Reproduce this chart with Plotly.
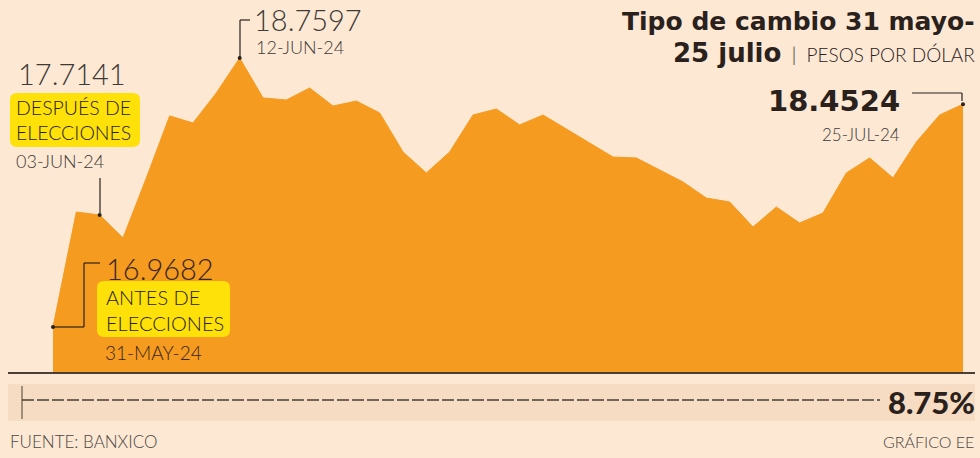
import plotly.graph_objects as go

# ---------------- data ----------------
# 40 daily observations, 31-may-24 .. 25-jul-24 (pesos por dólar)
day_index = list(range(40))
tipo_cambio = [
    16.9682, 17.734, 17.7141, 17.561, 17.961, 18.374, 18.327, 18.527, 18.7597, 18.494,
    18.480, 18.560, 18.440, 18.473, 18.394, 18.134, 17.994, 18.134, 18.380, 18.420,
    18.314, 18.380, 18.287, 18.194, 18.100, 18.094, 18.014, 17.934, 17.827, 17.801,
    17.634, 17.767, 17.661, 17.727, 17.994, 18.094, 17.961, 18.200, 18.380, 18.4524,
]
highlight_idx = [0, 2, 8, 39]
highlight_lbl = ["31-MAY-24", "03-JUN-24", "12-JUN-24", "25-JUL-24"]
tasa_objetivo = "8.75%"

# ---------------- styling ----------------
W, H = 980, 458
BOTTOM = 373          # pixel row of the baseline
BG = "#FDE8D4"
ORANGE = "#F59B20"
YELLOW = "#FFE10A"
DARK = "#2A211C"
GREY = "#3E3A37"
FONT = "Lato"
BOLDFONT = "DejaVu Sans"


def px(x):
    return x / W


def py(y):
    return (BOTTOM - y) / BOTTOM


fig = go.Figure()
fig.add_trace(go.Scatter(
    x=day_index, y=tipo_cambio, mode="lines", fill="tozeroy",
    fillcolor=ORANGE, line=dict(color=ORANGE, width=1), hoverinfo="skip",
))
fig.add_trace(go.Scatter(
    x=[day_index[i] for i in highlight_idx],
    y=[tipo_cambio[i] for i in highlight_idx],
    mode="markers", marker=dict(color=DARK, size=4), hoverinfo="skip",
))

shapes = []
annotations = []


def line(x0, y0, x1, y1, color=DARK, width=1.2, dash="solid"):
    shapes.append(dict(type="line", xref="paper", yref="paper",
                       x0=px(x0), y0=py(y0), x1=px(x1), y1=py(y1),
                       line=dict(color=color, width=width, dash=dash)))


def rounded_box(x0, y0, x1, y1, r, color):
    p = (f"M {px(x0 + r)},{py(y0)} L {px(x1 - r)},{py(y0)} "
         f"Q {px(x1)},{py(y0)} {px(x1)},{py(y0 + r)} L {px(x1)},{py(y1 - r)} "
         f"Q {px(x1)},{py(y1)} {px(x1 - r)},{py(y1)} L {px(x0 + r)},{py(y1)} "
         f"Q {px(x0)},{py(y1)} {px(x0)},{py(y1 - r)} L {px(x0)},{py(y0 + r)} "
         f"Q {px(x0)},{py(y0)} {px(x0 + r)},{py(y0)} Z")
    shapes.append(dict(type="path", xref="paper", yref="paper", path=p,
                       fillcolor=color, line=dict(width=0)))


def text(x, y, s, size, color=GREY, weight=300, xanchor="left", yanchor="middle",
         family=FONT, align="left"):
    annotations.append(dict(xref="paper", yref="paper", x=px(x), y=py(y), text=s, showarrow=False,
                            xanchor=xanchor, yanchor=yanchor, align=align,
                            font=dict(family=family, size=size, color=color, weight=weight)))


# baseline & rate band
shapes.append(dict(type="rect", xref="paper", yref="paper", x0=px(8), x1=px(975), y0=py(421), y1=py(384),
                   fillcolor="#F6DCC2", line=dict(width=0), layer="below"))
line(8, BOTTOM, 975, BOTTOM, color="#4A3E35", width=2)
line(22, 386, 22, 419, color="#4A3E35", width=1)
line(22, 400, 880, 400, color="#4A3E35", width=1.6, dash="12px,3px")
text(977, 402, tasa_objetivo, 31, color=DARK, weight=900, xanchor="right")

# footer
text(8, 442, "FUENTE: BANXICO", 17, color="#4A4542")
text(976, 442, "GRÁFICO EE", 16, color="#4A4542", xanchor="right")

# title
text(977, 21, "Tipo de cambio 31 mayo-", 25, color=DARK, weight=700, xanchor="right", family=BOLDFONT)
text(977, 53, "<span style='font-family:DejaVu Sans;font-weight:700;font-size:26px'>25 julio</span>"
              "<span style='font-weight:300;font-size:19px'>  |  PESOS POR DÓLAR</span>",
     19, color=DARK, weight=300, xanchor="right")

# 25-jul label
text(902, 101, "18.4524", 29, color=DARK, weight=700, xanchor="right", family=BOLDFONT)
text(902, 134, highlight_lbl[3], 17, xanchor="right")
line(912, 93, 962, 93)
line(962, 93, 962, 101)

# 12-jun label
text(252, 19, "18.7597", 29, weight=300)
text(254, 47, highlight_lbl[2], 18)
line(240, 58, 240, 20)
line(240, 20, 250, 20)

# 03-jun label
text(16, 73, "17.7141", 29, weight=300)
rounded_box(10, 93, 140, 147, 7, YELLOW)
text(14, 120, "DESPUÉS DE<br>ELECCIONES", 19.5, color=DARK, weight=300)
text(14, 161, highlight_lbl[1], 18)
line(100, 178, 100, 213)

# 31-may label
text(104, 268, "16.9682", 29, color="#3A2616", weight=300)
rounded_box(97, 281, 230, 337, 7, YELLOW)
text(104, 310, "ANTES DE<br>ELECCIONES", 20, color=DARK, weight=300)
text(103, 352, highlight_lbl[0], 19, color="#3A2616")
line(53, 327, 84, 327)
line(84, 327, 84, 263)
line(84, 263, 100, 263)

# axis scaling: index 0 -> x=53px, index 39 -> x=963px
step = (963 - 53) / 39
vpp = (18.7597 - 16.9682) / (327 - 58)
fig.update_layout(
    width=W, height=H, paper_bgcolor=BG, plot_bgcolor=BG,
    margin=dict(l=0, r=0, t=0, b=H - BOTTOM),
    showlegend=False,
    xaxis=dict(range=[-53 / step, 39 + (W - 963) / step], visible=False, fixedrange=True),
    yaxis=dict(range=[16.9682 - (BOTTOM - 327) * vpp, 16.9682 + 327 * vpp], visible=False, fixedrange=True),
    shapes=shapes, annotations=annotations,
)
fig.write_html("out.html", config={"displayModeBar": False},
               post_script="document.body.style.margin='0';document.body.style.overflow='hidden';")
